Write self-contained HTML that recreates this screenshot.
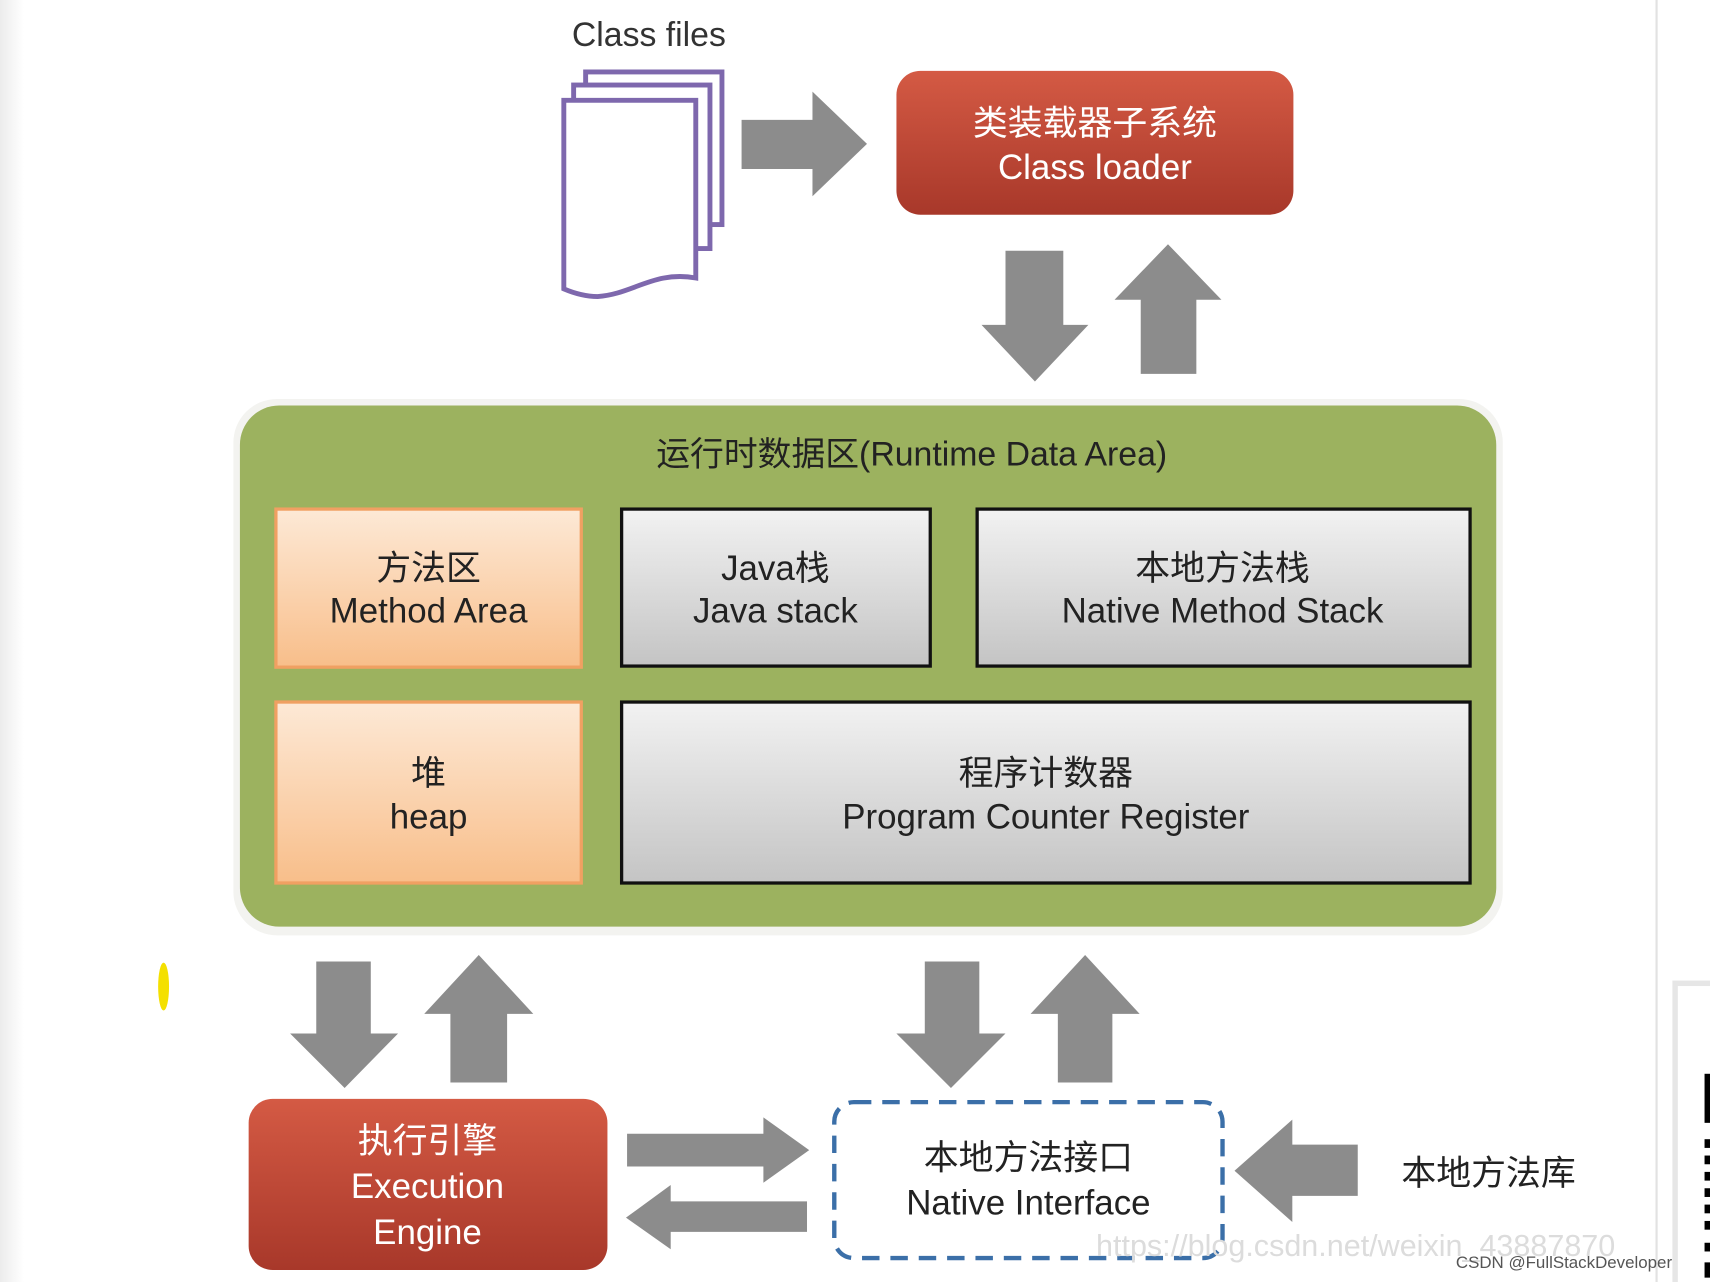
<!DOCTYPE html>
<html><head><meta charset="utf-8"><style>
html,body{margin:0;padding:0;background:#fff;}
svg{display:block;}
text{font-family:"Liberation Sans","Noto Sans CJK SC",sans-serif;}
</style></head><body>
<svg width="1710" height="1282" viewBox="0 0 1568 1176" preserveAspectRatio="none" xmlns="http://www.w3.org/2000/svg">
<defs>
<linearGradient id="red" x1="0" y1="0" x2="0" y2="1"><stop offset="0" stop-color="#d45a44"/><stop offset="1" stop-color="#a8382a"/></linearGradient>
<linearGradient id="gray" x1="0" y1="0" x2="0" y2="1"><stop offset="0" stop-color="#f2f2f2"/><stop offset="1" stop-color="#c4c4c4"/></linearGradient>
<linearGradient id="org" x1="0" y1="0" x2="0" y2="1"><stop offset="0" stop-color="#fde9d6"/><stop offset="1" stop-color="#f8be8a"/></linearGradient>
<linearGradient id="lg" x1="0" y1="0" x2="1" y2="0"><stop offset="0" stop-color="#ececec"/><stop offset="1" stop-color="#ffffff"/></linearGradient>
</defs>
<rect x="0" y="0" width="22" height="1176" fill="url(#lg)"/>
<line x1="1519" y1="0" x2="1519" y2="1176" stroke="#e2e2e2" stroke-width="2"/>
<rect x="1536" y="902" width="40" height="280" fill="#fff" stroke="#e6e6e6" stroke-width="5"/>
<rect x="1563" y="985" width="6" height="45" fill="#000"/>
<g fill="#000"><rect x="1563" y="1045" width="6" height="8"/><rect x="1563" y="1060" width="6" height="8"/><rect x="1563" y="1075" width="6" height="8"/><rect x="1563" y="1090" width="6" height="8"/><rect x="1563" y="1105" width="6" height="8"/><rect x="1563" y="1120" width="6" height="8"/><rect x="1563" y="1140" width="6" height="8"/><rect x="1563" y="1158" width="6" height="14"/></g>
<ellipse cx="150" cy="905" rx="5" ry="22" fill="#f4e000"/>

<text x="595" y="42" font-size="31" text-anchor="middle" fill="#333">Class files</text>
<g fill="#fff" stroke="#7e68ad" stroke-width="4.5">
<rect x="537" y="66" width="125" height="140"/>
<rect x="526" y="78" width="125" height="150"/>
<path d="M517 92 H638 V255 C600 248 580 270 548 272 C535 272 524 268 517 265 Z"/>
</g>
<polygon fill="#8c8c8c" points="680,110 745,110 745,84 795,132 745,180 745,155 680,155"/>

<rect x="822" y="65" width="364" height="132" rx="22" fill="url(#red)"/>
<text x="1004" y="124" font-size="32" text-anchor="middle" fill="#fff">类装载器子系统</text>
<text x="1004" y="164" font-size="32" text-anchor="middle" fill="#fff">Class loader</text>

<g fill="#8c8c8c">
<polygon points="922,230 975,230 975,298 998,298 949,350 900,298 922,298"/>
<polygon points="1046,343 1097,343 1097,275 1120,275 1071,224 1022,275 1046,275"/>
<polygon points="290,882 340,882 340,948 365,948 316,998 266,948 290,948"/>
<polygon points="413,993 465,993 465,930 489,930 439,876 389,930 413,930"/>
<polygon points="848,882 898,882 898,948 922,948 872,998 822,948 848,948"/>
<polygon points="970,993 1020,993 1020,930 1045,930 995,876 945,930 970,930"/>
<polygon points="575,1040 700,1040 700,1025 742,1055 700,1085 700,1070 575,1070"/>
<polygon points="740,1102 615,1102 615,1087 574,1117 615,1146 615,1130 740,1130"/>
<polygon points="1245,1050 1185,1050 1185,1027 1132,1074 1185,1121 1185,1097 1245,1097"/>
</g>

<rect x="214" y="366" width="1164" height="492" rx="40" fill="#f3f3f0"/>
<rect x="220" y="372" width="1152" height="478" rx="36" fill="#9cb25f"/>
<text x="836" y="427" font-size="31" text-anchor="middle" fill="#222">运行时数据区(Runtime Data Area)</text>

<rect x="253" y="467" width="280" height="145" fill="url(#org)" stroke="#f0a062" stroke-width="3"/>
<text x="393" y="532" font-size="32" text-anchor="middle" fill="#222">方法区</text>
<text x="393" y="571" font-size="32" text-anchor="middle" fill="#222">Method Area</text>
<rect x="570" y="467" width="283" height="144" fill="url(#gray)" stroke="#111" stroke-width="3"/>
<text x="711" y="532" font-size="32" text-anchor="middle" fill="#222">Java栈</text>
<text x="711" y="571" font-size="32" text-anchor="middle" fill="#222">Java stack</text>
<rect x="896" y="467" width="452" height="144" fill="url(#gray)" stroke="#111" stroke-width="3"/>
<text x="1121" y="532" font-size="32" text-anchor="middle" fill="#222">本地方法栈</text>
<text x="1121" y="571" font-size="32" text-anchor="middle" fill="#222">Native Method Stack</text>
<rect x="253" y="644" width="280" height="166" fill="url(#org)" stroke="#f0a062" stroke-width="3"/>
<text x="393" y="720" font-size="32" text-anchor="middle" fill="#222">堆</text>
<text x="393" y="760" font-size="32" text-anchor="middle" fill="#222">heap</text>
<rect x="570" y="644" width="778" height="166" fill="url(#gray)" stroke="#111" stroke-width="3"/>
<text x="959" y="720" font-size="32" text-anchor="middle" fill="#222">程序计数器</text>
<text x="959" y="760" font-size="32" text-anchor="middle" fill="#222">Program Counter Register</text>

<rect x="228" y="1008" width="329" height="157" rx="22" fill="url(#red)"/>
<text x="392" y="1057" font-size="32" text-anchor="middle" fill="#fff">执行引擎</text>
<text x="392" y="1099" font-size="32" text-anchor="middle" fill="#fff">Execution</text>
<text x="392" y="1141" font-size="32" text-anchor="middle" fill="#fff">Engine</text>

<rect x="765" y="1011" width="356" height="143" rx="18" fill="#fff" stroke="#3b6fa8" stroke-width="4" stroke-dasharray="16,10"/>
<text x="943" y="1073" font-size="32" text-anchor="middle" fill="#222">本地方法接口</text>
<text x="943" y="1114" font-size="32" text-anchor="middle" fill="#222">Native Interface</text>
<text x="1365" y="1087" font-size="32" text-anchor="middle" fill="#222">本地方法库</text>

<text x="1005" y="1152" font-size="28" fill="#dcdcdc">https://blog.csdn.net/weixin_43887870</text>
<text x="1335" y="1163" font-size="15.5" fill="#555">CSDN @FullStackDeveloper</text>
</svg>
</body></html>
